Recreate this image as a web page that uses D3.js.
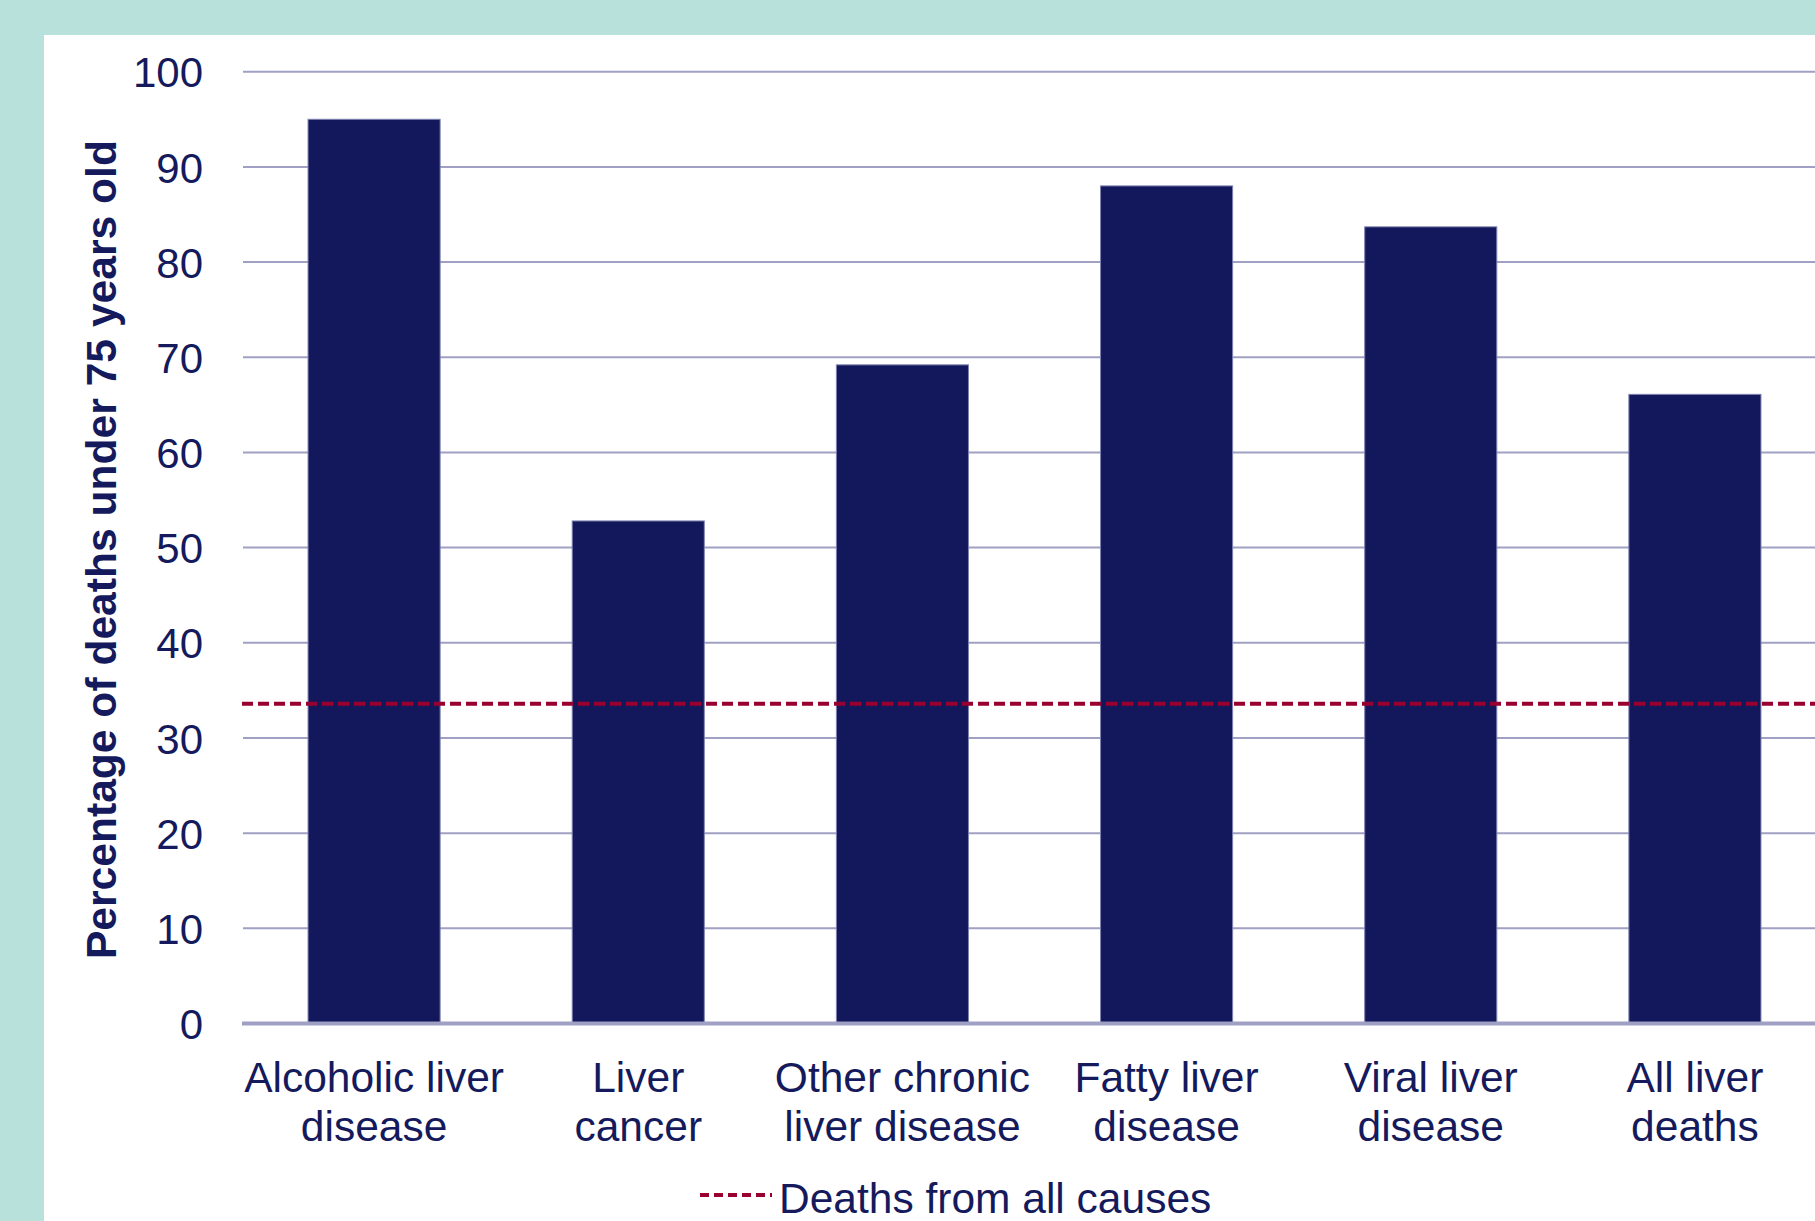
<!DOCTYPE html>
<html>
<head>
<meta charset="utf-8">
<script src="https://cdn.jsdelivr.net/npm/d3@7"></script>
<style>
  html, body { margin: 0; padding: 0; background: #b8e1dc; }
  svg { display: block; font-family: "Liberation Sans", Arial, sans-serif; }
</style>
</head>
<body>
<svg id="chart" width="1815" height="1221"></svg>
<script>
// ---------- data ----------
var categories = [
  ["Alcoholic liver", "disease"],
  ["Liver", "cancer"],
  ["Other chronic", "liver disease"],
  ["Fatty liver", "disease"],
  ["Viral liver", "disease"],
  ["All liver", "deaths"]
];
var values = [95.0, 52.8, 69.2, 88.0, 83.7, 66.1];
var allCauses = 33.6;
var yTicks = [0, 10, 20, 30, 40, 50, 60, 70, 80, 90, 100];
var yTitle = "Percentage of deaths under 75 years old";
var legendLabel = "Deaths from all causes";

// ---------- layout ----------
var W = 1815, H = 1221;
var navy = "#12185b", textCol = "#141a5c", grid = "#a0a0c4", red = "#99002f";
var svg = d3.select("#chart");

svg.append("rect").attr("x", 0).attr("y", 0).attr("width", W).attr("height", H).attr("fill", "#b8e1dc");
svg.append("rect").attr("x", 44).attr("y", 35).attr("width", W - 44).attr("height", H - 35).attr("fill", "#ffffff");

var keys = categories.map(function (c, i) { return i; });
var x = d3.scaleBand().domain(keys).range([242, 1827]).paddingInner(0.5).paddingOuter(0.25);
var y = d3.scaleLinear().domain([0, 100]).range([1023.5, 71.7]);

// gridlines
svg.append("g").selectAll("line").data(yTicks.filter(function (d) { return d > 0; })).enter().append("line")
  .attr("x1", 243).attr("x2", W)
  .attr("y1", function (d) { return y(d); }).attr("y2", function (d) { return y(d); })
  .attr("stroke", grid).attr("stroke-width", 2);

// tick labels
var yAxis = d3.axisLeft(y).tickValues(yTicks).tickSize(0).tickPadding(0);
var ga = svg.append("g").attr("transform", "translate(203,0)").call(yAxis);
ga.select(".domain").remove();
ga.selectAll("text").attr("font-size", 42).attr("fill", textCol)
  .attr("font-family", "'Liberation Sans', Arial, sans-serif").attr("dy", "0.36em");

// bars
svg.append("g").selectAll("rect").data(values).enter().append("rect")
  .attr("x", function (d, i) { return x(i); })
  .attr("y", function (d) { return y(d); })
  .attr("width", x.bandwidth())
  .attr("height", function (d) { return y(0) - y(d); })
  .attr("fill", navy).attr("stroke", "#7f82b0").attr("stroke-width", 1);

// zero axis
svg.append("line").attr("x1", 242).attr("x2", W).attr("y1", y(0)).attr("y2", y(0))
  .attr("stroke", grid).attr("stroke-width", 4);

// all causes reference line
svg.append("line").attr("x1", 242).attr("x2", W).attr("y1", y(allCauses)).attr("y2", y(allCauses))
  .attr("stroke", red).attr("stroke-width", 4).attr("stroke-dasharray", "11,5");

// category labels
var lab = svg.append("g").selectAll("text").data(categories).enter().append("text")
  .attr("text-anchor", "middle").attr("font-size", 42.5).attr("fill", textCol);
lab.each(function (d, i) {
  var t = d3.select(this), cx = x(i) + x.bandwidth() / 2;
  d.forEach(function (line, j) {
    t.append("tspan").attr("x", cx).attr("y", 1092 + j * 49).text(line);
  });
});

// y title
svg.append("text").attr("transform", "translate(116," + ((y(0) + y(100)) / 2 + 2) + ") rotate(-90)")
  .attr("text-anchor", "middle").attr("font-size", 42.6).attr("font-weight", "bold").attr("fill", textCol)
  .text(yTitle);

// legend
svg.append("line").attr("x1", 700).attr("x2", 772).attr("y1", 1195).attr("y2", 1195)
  .attr("stroke", red).attr("stroke-width", 4).attr("stroke-dasharray", "9,5");
svg.append("text").attr("x", 779).attr("y", 1213).attr("font-size", 42.5).attr("fill", textCol).text(legendLabel);
</script>
</body>
</html>
